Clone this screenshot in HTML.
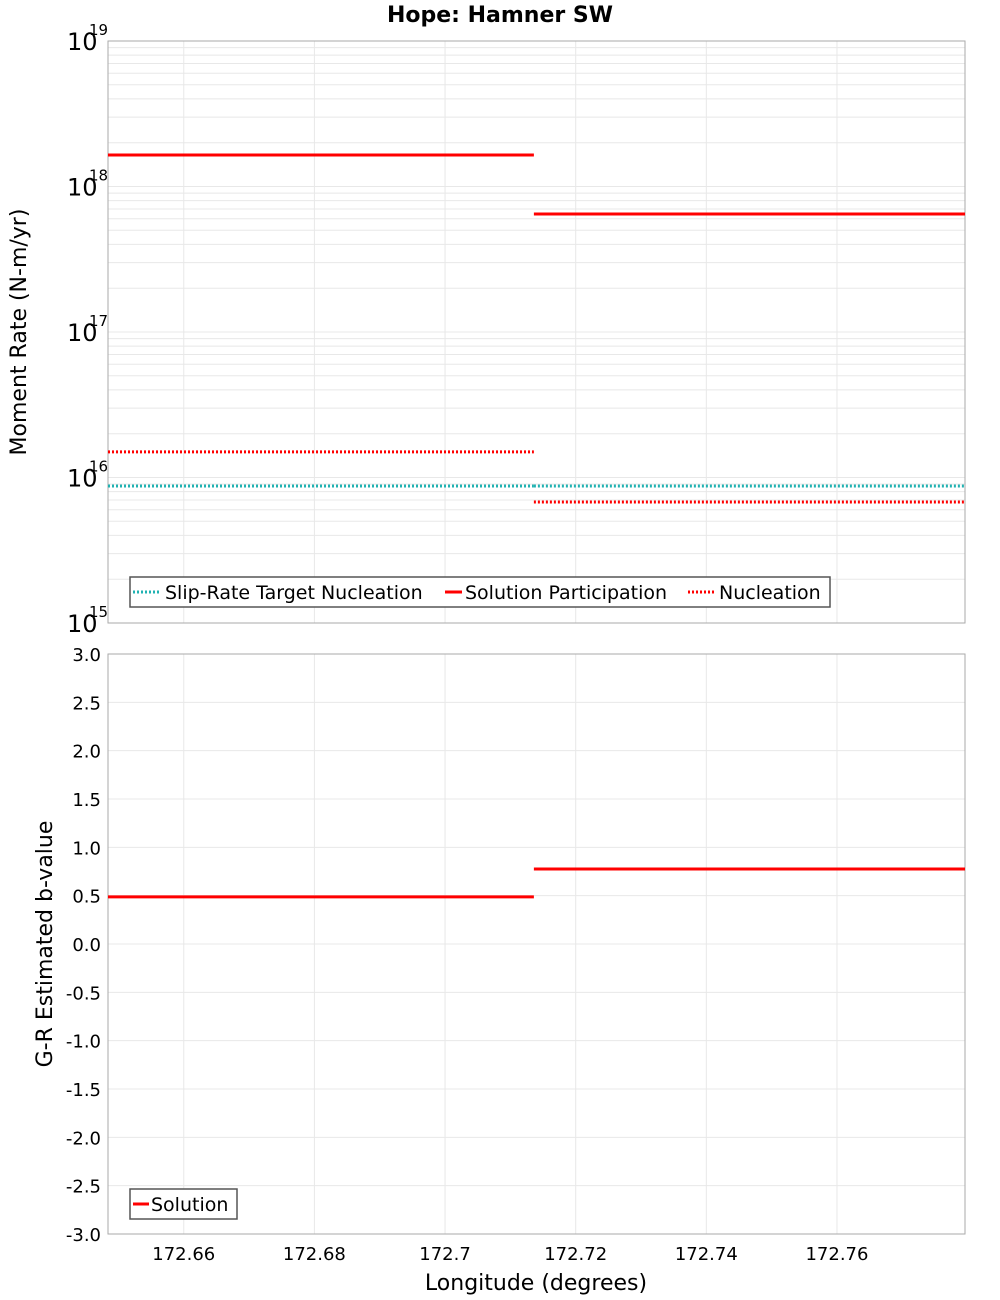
<!DOCTYPE html>
<html><head><meta charset="utf-8">
<style>
body{margin:0;background:#fff;}
svg{display:block;font-family:"DejaVu Sans","Liberation Sans",sans-serif;}
</style></head>
<body>
<svg id="chart" width="1000" height="1300" xmlns="http://www.w3.org/2000/svg">
<rect width="1000" height="1300" fill="#fff"/>
<text x="500" y="22" text-anchor="middle" font-size="22" font-weight="bold">Hope: Hamner SW</text>
<g id="topg"></g>
<g id="botg"></g>
<text transform="translate(26,332) rotate(-90)" text-anchor="middle" font-size="22">Moment Rate (N-m/yr)</text>
<text transform="translate(52,944) rotate(-90)" text-anchor="middle" font-size="22">G-R Estimated b-value</text>
<text x="536" y="1290" text-anchor="middle" font-size="22">Longitude (degrees)</text>
</svg>
<script>
const xTicks = [172.66, 172.68, 172.7, 172.72, 172.74, 172.76];
const xTickLabels = ["172.66","172.68","172.7","172.72","172.74","172.76"];
const segStarts = [172.6484, 172.7136];
const segEnds = [172.7136, 172.7796];
const targetNucleation = [8.74e15, 8.74e15];
const solutionParticipation = [1.646e18, 6.47e17];
const nucleation = [1.50e16, 6.79e15];
const bValues = [0.487, 0.776];
const logExps = [15, 16, 17, 18, 19];
const bTicks = [-3,-2.5,-2,-1.5,-1,-0.5,0,0.5,1,1.5,2,2.5,3];

const NS = "http://www.w3.org/2000/svg";
const L = 108, R = 965;
const xMin = 172.6484, xMax = 172.7796;
function X(v){ return L + (v - xMin) / (xMax - xMin) * (R - L); }
const T0 = 41, T1 = 623;
function YT(v){ return T1 - (Math.log10(v) - 15) / 4 * (T1 - T0); }
const B0 = 654, B1 = 1234;
function YB(v){ return B1 - (v + 3) / 6 * (B1 - B0); }

function mk(parent, tag, attrs){
  const e = document.createElementNS(NS, tag);
  for (const k in attrs) e.setAttribute(k, attrs[k]);
  parent.appendChild(e);
  return e;
}
const topG = document.getElementById('topg');
const botG = document.getElementById('botg');

for (let e = 15; e < 19; e++) {
  for (let m = 1; m <= 9; m++) {
    const y = YT(m * Math.pow(10, e));
    const g = mk(topG, 'line', {x1:L, x2:R, y1:y, y2:y, stroke:'#e8e8e8', 'stroke-width':1});
    
    
  }
}
xTicks.forEach((v, i) => {
  const g = mk(topG, 'line', {x1:X(v), x2:X(v), y1:T0, y2:T1, stroke:'#e8e8e8'});
  
  
  const g2 = mk(botG, 'line', {x1:X(v), x2:X(v), y1:B0, y2:B1, stroke:'#e8e8e8'});
  
  
  const t = mk(botG, 'text', {x:X(v), y:1260, 'text-anchor':'middle', 'font-size':18});
  t.textContent = xTickLabels[i];
  
  
});
logExps.forEach(e => {
  const y = YT(Math.pow(10, e));
  const t = mk(topG, 'text', {x:67, y:y + 9, 'font-size':24});
  t.textContent = '10';
  
  
  const s = mk(topG, 'text', {x:89, y:y - 6, 'font-size':15});
  s.textContent = String(e);
  
  
});
const tf = mk(topG, 'rect', {x:L, y:T0, width:R-L, height:T1-T0, fill:'none', stroke:'#aaa'});



function seg(parent, vals, yf, color, dash, name){
  vals.forEach((v, i) => {
    const a = {x1:X(segStarts[i]), x2:X(segEnds[i]), y1:yf(v), y2:yf(v), stroke:color, 'stroke-width':3};
    if (dash) a['stroke-dasharray'] = '2,2';
    const l = mk(parent, 'line', a);
    
    
  });
}
seg(topG, targetNucleation, YT, '#20b2b2', true, 'slip-rate-target-nucleation-line');
seg(topG, nucleation, YT, '#ff0000', true, 'nucleation-line');
seg(topG, solutionParticipation, YT, '#ff0000', false, 'solution-participation-line');

const lg = mk(topG, 'g', {});


mk(lg, 'rect', {x:130, y:577, width:700, height:30, fill:'#fff', stroke:'#555', 'stroke-width':1.5});
[[133,'#20b2b2',true,'Slip-Rate Target Nucleation',165],[445,'#ff0000',false,'Solution Participation',465],[688,'#ff0000',true,'Nucleation',719]].forEach(d => {
  const a = {x1:d[0], x2:d[0]+28, y1:592, y2:592, stroke:d[1], 'stroke-width':3};
  if (d[0] === 445) a.x2 = d[0] + 17;
  if (d[2]) a['stroke-dasharray'] = '2,2';
  mk(lg, 'line', a);
  const t = mk(lg, 'text', {x:d[4], y:599, 'font-size':19});
  t.textContent = d[3];
  
  
});

bTicks.forEach(v => {
  const y = YB(v);
  const g = mk(botG, 'line', {x1:L, x2:R, y1:y, y2:y, stroke:'#e8e8e8'});
  
  
  const t = mk(botG, 'text', {x:101, y:y + 7, 'text-anchor':'end', 'font-size':18});
  t.textContent = v.toFixed(1);
  
  
});
const bf = mk(botG, 'rect', {x:L, y:B0, width:R-L, height:B1-B0, fill:'none', stroke:'#aaa'});


seg(botG, bValues, YB, '#ff0000', false, 'b-value-line');
const lg2 = mk(botG, 'g', {});


mk(lg2, 'rect', {x:130, y:1189, width:107, height:30, fill:'#fff', stroke:'#555', 'stroke-width':1.5});
mk(lg2, 'line', {x1:133, x2:149, y1:1204, y2:1204, stroke:'#ff0000', 'stroke-width':3});
const st = mk(lg2, 'text', {x:151, y:1211, 'font-size':19});
st.textContent = 'Solution';


</script>
</body></html>
